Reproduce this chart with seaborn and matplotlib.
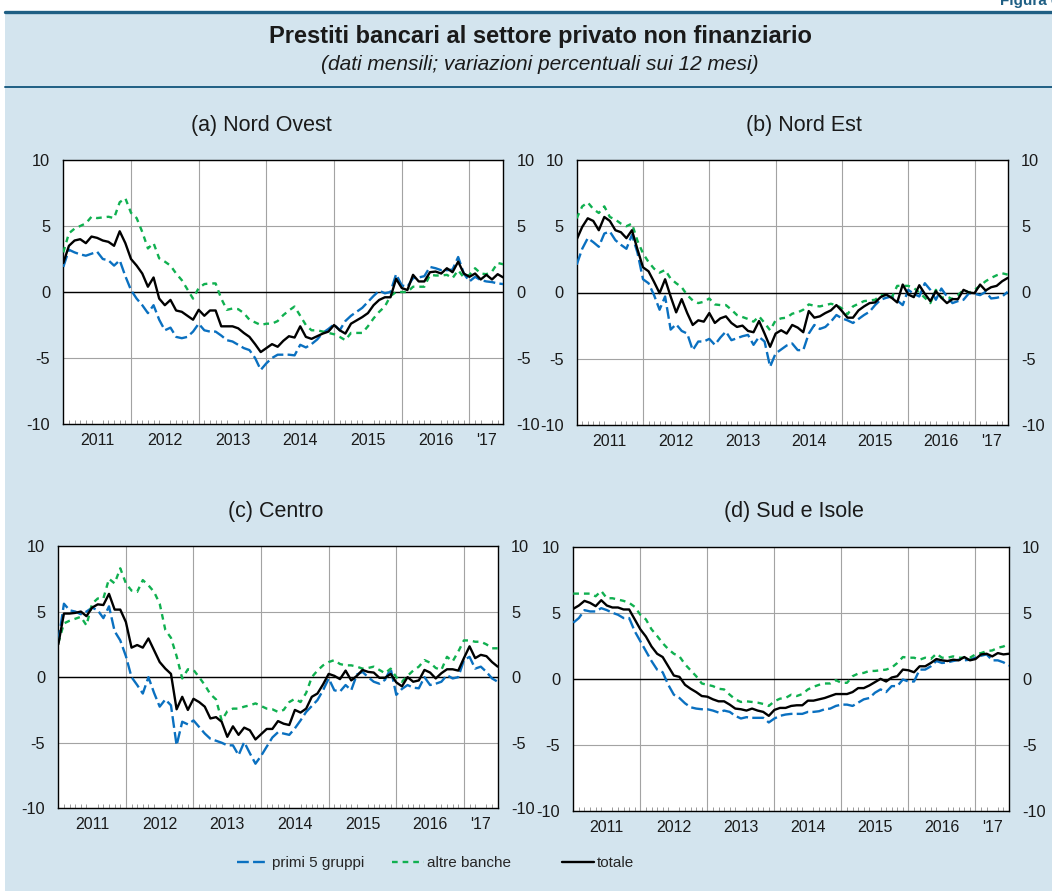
import numpy as np
import pandas as pd
import matplotlib
matplotlib.use("Agg")
import matplotlib.pyplot as plt
import seaborn as sns
from matplotlib.patches import Rectangle
from matplotlib.lines import Line2D

sns.set_theme(style="white")
plt.rcParams["font.family"] = ["Liberation Sans", "DejaVu Sans"]
plt.rcParams["axes.unicode_minus"] = False

# ---------------------------------------------------------------- dati
# mesi da gennaio 2011 a luglio 2017
mesi = np.arange(79)
anni = ["2011", "2012", "2013", "2014", "2015", "2016", "'17"]
serie = ["primi 5 gruppi", "altre banche", "totale"]

nord_ovest_primi5 = [
    1.9, 3.2, 3.0, 2.85, 2.75, 2.9, 3.05, 2.5, 2.4, 2.0,
    2.4, 1.2, 0.15, -0.5, -1.0, -1.6, -1.0, -2.1, -2.9, -2.7,
    -3.4, -3.5, -3.4, -3.0, -2.4, -2.9, -3.0, -3.0, -3.3, -3.65,
    -3.75, -4.0, -4.25, -4.4, -5.0, -5.9, -5.4, -5.0, -4.75, -4.75,
    -4.75, -4.8, -4.0, -4.2, -3.95, -3.6, -3.1, -2.8, -2.45, -2.9,
    -2.2, -1.8, -1.5, -1.2, -0.75, -0.3, 0.1, -0.1, 0.0, 1.35,
    0.5, 0.4, 1.05, 1.1, 1.2, 1.9, 1.8, 1.65, 1.65, 1.7,
    2.65, 1.4, 0.8, 1.15, 0.9, 0.8, 0.75, 0.65, 0.6]
nord_ovest_altre = [
    3.0, 4.45, 4.8, 5.0, 5.2, 5.7, 5.6, 5.65, 5.7, 5.6,
    6.8, 7.1, 6.0, 5.6, 4.55, 3.3, 3.7, 2.55, 2.3, 2.0,
    1.4, 0.9, 0.2, -0.5, 0.3, 0.6, 0.65, 0.65, -0.5, -1.35,
    -1.25, -1.3, -1.6, -2.1, -2.3, -2.5, -2.4, -2.4, -2.2, -1.75,
    -1.4, -1.1, -1.8, -2.5, -2.9, -2.9, -3.0, -3.1, -3.2, -3.4,
    -3.65, -3.1, -3.1, -3.1, -2.6, -2.0, -1.5, -1.1, -0.3, 0.0,
    0.0, 0.0, 0.4, 0.4, 0.4, 1.3, 1.25, 1.25, 1.3, 1.05,
    1.65, 1.1, 1.3, 1.8, 1.4, 1.35, 1.55, 2.2, 2.1]
nord_ovest_totale = [
    2.2, 3.5, 3.9, 4.0, 3.7, 4.2, 4.1, 3.9, 3.8, 3.5,
    4.6, 3.7, 2.5, 2.0, 1.4, 0.4, 1.1, -0.5, -1.0, -0.6,
    -1.4, -1.5, -1.8, -2.1, -1.35, -1.8, -1.4, -1.4, -2.6, -2.6,
    -2.6, -2.75, -3.1, -3.4, -3.95, -4.55, -4.25, -3.95, -4.15, -3.7,
    -3.35, -3.45, -2.6, -3.4, -3.55, -3.35, -3.15, -3.0, -2.5, -2.9,
    -3.15, -2.4, -2.15, -1.9, -1.6, -1.0, -0.6, -0.4, -0.4, 1.0,
    0.3, 0.15, 1.3, 0.8, 0.8, 1.5, 1.55, 1.4, 1.8, 1.5,
    2.3, 1.4, 1.15, 1.4, 0.95, 1.3, 0.95, 1.35, 1.1]

nord_est_primi5 = [
    2.1, 3.3, 4.1, 3.8, 3.45, 4.45, 4.6, 3.95, 3.6, 3.3,
    4.35, 3.0, 1.0, 0.7, -0.2, -1.3, -0.3, -2.8, -2.4, -2.9,
    -3.1, -4.35, -3.7, -3.7, -3.5, -3.95, -3.4, -2.95, -3.6, -3.45,
    -3.3, -3.2, -3.95, -3.35, -3.7, -5.6, -4.6, -4.3, -4.0, -3.85,
    -4.35, -4.35, -3.1, -2.45, -2.75, -2.6, -2.2, -1.7, -1.95, -2.1,
    -2.3, -2.0, -1.7, -1.45, -0.95, -0.55, -0.4, -0.3, -0.6, -0.95,
    0.2, -0.1, -0.3, 0.7, 0.2, -0.55, 0.3, -0.3, -0.8, -0.65,
    -0.55, -0.05, -0.1, -0.2, 0.05, -0.45, -0.4, -0.3, 0.05]
nord_est_altre = [
    5.6, 6.5, 6.8, 6.3, 6.0, 6.5, 5.7, 5.5, 5.2, 5.0,
    5.2, 3.9, 2.95, 2.3, 1.8, 1.5, 1.7, 1.05, 0.7, 0.4,
    -0.2, -0.6, -0.8, -0.7, -0.45, -0.9, -0.95, -0.95, -1.3, -1.7,
    -1.85, -2.0, -2.2, -1.8, -2.3, -2.85, -2.1, -1.95, -1.9, -1.6,
    -1.5, -1.3, -0.9, -1.0, -1.05, -0.95, -0.85, -0.95, -1.2, -1.65,
    -1.05, -0.85, -0.65, -0.6, -0.55, -0.2, -0.2, -0.4, 0.5, 0.5,
    0.5, 0.35, 0.0, -0.4, -0.8, 0.2, -0.4, -0.3, -0.5, -0.2,
    0.2, 0.0, 0.2, 0.5, 0.85, 1.1, 1.3, 1.45, 1.35]
nord_est_totale = [
    4.0, 4.95, 5.6, 5.4, 4.7, 5.7, 5.4, 4.7, 4.55, 4.1,
    4.7, 3.25, 1.9, 1.6, 0.8, -0.05, 1.0, -0.3, -1.5, -0.5,
    -1.55, -2.45, -2.1, -2.2, -1.55, -2.3, -1.95, -1.8, -2.3, -2.6,
    -2.5, -2.9, -3.0, -2.15, -3.1, -4.1, -3.1, -2.85, -3.1, -2.45,
    -2.65, -3.0, -1.4, -1.9, -1.8, -1.55, -1.35, -0.95, -1.4, -1.9,
    -1.9, -1.35, -1.05, -0.8, -0.75, -0.35, -0.15, -0.4, -0.75, 0.6,
    -0.15, -0.35, 0.55, -0.1, -0.65, 0.1, -0.4, -0.8, -0.5, -0.5,
    0.2, 0.0, -0.05, 0.6, 0.15, 0.4, 0.5, 0.85, 1.1]

centro_primi5 = [
    2.7, 5.6, 5.1, 5.0, 4.8, 5.0, 5.3, 5.1, 4.5, 5.4,
    3.5, 2.8, 1.6, 0.0, -0.6, -1.25, 0.0, -1.2, -2.25, -1.7,
    -2.15, -5.2, -3.4, -3.6, -3.3, -3.8, -4.3, -4.7, -4.85, -5.0,
    -5.2, -5.2, -5.95, -4.95, -5.8, -6.6, -6.0, -5.3, -4.6, -4.2,
    -4.3, -4.4, -3.9, -3.3, -2.65, -2.2, -1.75, -1.0, -0.1, -1.0,
    -1.1, -0.6, -1.0, 0.2, 0.4, 0.0, -0.35, -0.5, -0.2, 0.65,
    -1.35, -0.9, -0.6, -0.8, -0.85, 0.0, -0.6, -0.5, -0.35, 0.15,
    -0.1, 0.0, 1.3, 1.55, 0.65, 0.8, 0.4, -0.1, -0.35]
centro_altre = [
    2.6, 4.1, 4.3, 4.45, 4.6, 3.95, 5.6, 6.0, 6.0, 7.5,
    7.15, 8.3, 7.15, 6.6, 6.5, 7.4, 7.0, 6.5, 5.6, 3.6,
    3.0, 1.6, -0.1, 0.6, 0.55, 0.0, -0.6, -1.3, -1.7, -3.3,
    -2.6, -2.4, -2.4, -2.25, -2.15, -2.0, -2.2, -2.4, -2.45, -2.65,
    -2.5, -1.9, -1.65, -1.9, -1.2, 0.0, 0.5, 0.9, 1.15, 1.3,
    1.0, 0.9, 0.9, 0.8, 0.65, 0.7, 0.8, 0.55, 0.3, 0.65,
    0.0, -0.35, 0.1, 0.5, 0.8, 1.3, 1.1, 0.7, 0.55, 1.55,
    1.2, 1.95, 2.8, 2.8, 2.7, 2.7, 2.5, 2.2, 2.2]
centro_totale = [
    2.5, 4.85, 4.85, 4.9, 5.0, 4.65, 5.3, 5.55, 5.5, 6.35,
    5.15, 5.15, 4.2, 2.25, 2.45, 2.25, 2.95, 2.05, 1.15, 0.65,
    0.25, -2.45, -1.5, -2.5, -1.65, -1.9, -2.25, -3.15, -3.05, -3.4,
    -4.55, -3.75, -4.4, -3.85, -4.05, -4.75, -4.35, -3.95, -3.95, -3.35,
    -3.55, -3.65, -2.5, -2.7, -2.4, -1.5, -1.25, -0.55, 0.25, 0.1,
    -0.15, 0.5, -0.25, 0.1, 0.55, 0.4, 0.35, -0.05, -0.05, 0.25,
    -0.4, -0.7, 0.0, -0.35, -0.25, 0.55, 0.35, -0.1, 0.3, 0.6,
    0.6, 0.5, 1.45, 2.35, 1.45, 1.7, 1.6, 1.15, 0.8]

sud_isole_primi5 = [
    4.25, 4.6, 5.2, 5.1, 5.1, 5.35, 5.2, 5.0, 4.85, 4.6,
    4.6, 3.6, 2.85, 2.1, 1.35, 0.7, 0.5, -0.45, -1.2, -1.45,
    -1.85, -2.15, -2.25, -2.3, -2.3, -2.4, -2.55, -2.4, -2.5, -2.8,
    -3.0, -2.9, -2.95, -2.95, -2.95, -3.3, -3.0, -2.8, -2.7, -2.65,
    -2.65, -2.65, -2.5, -2.5, -2.45, -2.3, -2.25, -2.05, -1.95, -1.95,
    -2.05, -1.8, -1.55, -1.45, -1.05, -0.8, -1.0, -0.55, -0.55, -0.05,
    -0.2, -0.2, 0.7, 0.7, 0.95, 1.35, 1.2, 1.25, 1.35, 1.45,
    1.4, 1.45, 1.6, 1.75, 1.85, 1.4, 1.4, 1.25, 1.0]
sud_isole_altre = [
    6.45, 6.45, 6.45, 6.45, 6.25, 6.65, 6.1, 6.1, 6.0, 5.9,
    5.75, 5.45, 4.85, 4.5, 3.75, 3.25, 2.7, 2.25, 1.9, 1.7,
    1.1, 0.65, 0.2, -0.35, -0.45, -0.55, -0.75, -0.8, -1.2, -1.55,
    -1.75, -1.7, -1.75, -1.8, -1.9, -2.05, -1.7, -1.5, -1.45, -1.2,
    -1.3, -1.15, -0.8, -0.6, -0.45, -0.35, -0.35, -0.1, -0.3, -0.3,
    0.2, 0.4, 0.45, 0.6, 0.6, 0.65, 0.7, 0.85, 1.2, 1.65,
    1.6, 1.6, 1.45, 1.6, 1.5, 1.9, 1.6, 1.6, 1.7, 1.6,
    1.6, 1.6, 1.85, 1.95, 2.1, 2.15, 2.35, 2.45, 2.65]
sud_isole_totale = [
    5.3, 5.55, 5.9, 5.75, 5.5, 5.95, 5.55, 5.4, 5.4, 5.25,
    5.25, 4.5, 3.75, 3.2, 2.45, 1.9, 1.65, 0.95, 0.25, 0.15,
    -0.45, -0.75, -1.0, -1.3, -1.35, -1.55, -1.7, -1.7, -1.95, -2.25,
    -2.3, -2.4, -2.25, -2.4, -2.5, -2.8, -2.35, -2.2, -2.2, -2.05,
    -2.0, -2.0, -1.65, -1.65, -1.55, -1.45, -1.3, -1.15, -1.15, -1.15,
    -1.0, -0.7, -0.7, -0.5, -0.25, 0.0, -0.2, 0.1, 0.2, 0.7,
    0.65, 0.5, 0.95, 0.95, 1.2, 1.5, 1.4, 1.35, 1.45, 1.4,
    1.65, 1.4, 1.5, 1.85, 1.9, 1.7, 1.95, 1.85, 1.9]

pannelli = [
    ("(a) Nord Ovest", nord_ovest_primi5, nord_ovest_altre, nord_ovest_totale),
    ("(b) Nord Est", nord_est_primi5, nord_est_altre, nord_est_totale),
    ("(c) Centro", centro_primi5, centro_altre, centro_totale),
    ("(d) Sud e Isole", sud_isole_primi5, sud_isole_altre, sud_isole_totale),
]

# ---------------------------------------------------------------- stile
colori = {"primi 5 gruppi": "#0a70c0", "altre banche": "#10b050", "totale": "#000000"}
tratti = {"primi 5 gruppi": (5.0, 1.8), "altre banche": (2.4, 2.1), "totale": ""}
sfondo = "#d3e4ee"
blu_scuro = "#1f5f84"
griglia = "#a3a3a3"

W, H = 1052, 891
fig = plt.figure(figsize=(W / 100, H / 100), dpi=100, facecolor="white")


def px_box(left, top, right, bottom):
    return [left / W, 1 - bottom / H, (right - left) / W, (bottom - top) / H]


# fondo azzurro e filetti della testata
fig.patches.append(Rectangle((5 / W, 0), 1, 1 - 11 / H, transform=fig.transFigure,
                             facecolor=sfondo, edgecolor="none", zorder=-10))
fig.add_artist(Line2D([5 / W, 1], [1 - 11.5 / H] * 2, color=blu_scuro, lw=2.4,
                      zorder=-5))
fig.add_artist(Line2D([5 / W, 1], [1 - 86.5 / H] * 2, color=blu_scuro, lw=1.4,
                      zorder=-5))

fig.text(1000 / W, 1 - 1 / H, "Figura 6.", ha="left", va="center",
         fontsize=11, fontweight="bold", color=blu_scuro)
fig.text(540 / W, 1 - 37 / H, "Prestiti bancari al settore privato non finanziario",
         ha="center", va="center", fontsize=17, fontweight="bold", color="#1a1a1a")
fig.text(540 / W, 1 - 64 / H, "(dati mensili; variazioni percentuali sui 12 mesi)",
         ha="center", va="center", fontsize=15, style="italic", color="#1a1a1a")

riquadri = [
    px_box(63.3, 160, 503.3, 424),
    px_box(576.7, 160, 1007.7, 425),
    px_box(58.3, 546, 497.7, 808.3),
    px_box(573.3, 546.7, 1009, 811),
]
titoli_pos = [(261, 125), (804, 125), (276, 511), (794, 511)]

centri_anni = [6, 18, 30, 42, 54, 66, 75]
confini_anni = [12, 24, 36, 48, 60, 72]

for (titolo, primi, altre, totale), box, (tx, ty) in zip(pannelli, riquadri, titoli_pos):
    ax = fig.add_axes(box)
    ax.set_facecolor("white")
    df = pd.DataFrame({
        "mese": np.tile(mesi, 3),
        "valore": np.concatenate([primi, altre, totale]),
        "serie": np.repeat(serie, len(mesi)),
    })
    sns.lineplot(data=df, x="mese", y="valore", hue="serie", style="serie",
                 hue_order=serie, style_order=serie, palette=colori, dashes=tratti,
                 linewidth=1.7, estimator=None, sort=False, legend=False, ax=ax,
                 zorder=3)
    ax.set_xlim(0, 78)
    ax.set_ylim(-10, 10)
    ax.set_xlabel("")
    ax.set_ylabel("")

    ax.set_yticks([-10, -5, 0, 5, 10])
    ax.tick_params(axis="y", length=0, pad=9.5, labelsize=11.8, labelcolor="#1a1a1a",
                   labelleft=True, labelright=True)
    ax.yaxis.grid(True, color=griglia, lw=0.8)
    ax.set_axisbelow(True)

    ax.set_xticks(centri_anni, labels=anni)
    ax.set_xticks(mesi, minor=True)
    ax.tick_params(axis="x", which="major", length=0, pad=6.5, labelsize=11.5,
                   labelcolor="#1a1a1a")
    ax.tick_params(axis="x", which="minor", bottom=True, direction="in", length=3,
                   width=0.7, color="#9a9a9a")
    for g in confini_anni:
        ax.axvline(g, color=griglia, lw=0.8, zorder=1)
    ax.axhline(0, color="black", lw=1.0, zorder=2)

    for sp in ax.spines.values():
        sp.set_visible(True)
        sp.set_color("black")
        sp.set_linewidth(1.0)

    fig.text(tx / W, 1 - ty / H, titolo, ha="center", va="center", fontsize=15.5,
             color="#1a1a1a")

# legenda comune
voci = [("primi 5 gruppi", 232), ("altre banche", 387), ("totale", 557)]
for nome, x0 in voci:
    handle = Line2D([], [], color=colori[nome], lw=1.7,
                    dashes=tratti[nome] if tratti[nome] else (None, None))
    fig.legend([handle], [nome], loc="center left",
               bbox_to_anchor=(x0 / W - 0.008, 1 - 863 / H), frameon=False,
               fontsize=11, handlelength=2.1, handletextpad=0.15)

fig.savefig("out.png", dpi=100, facecolor=fig.get_facecolor())
